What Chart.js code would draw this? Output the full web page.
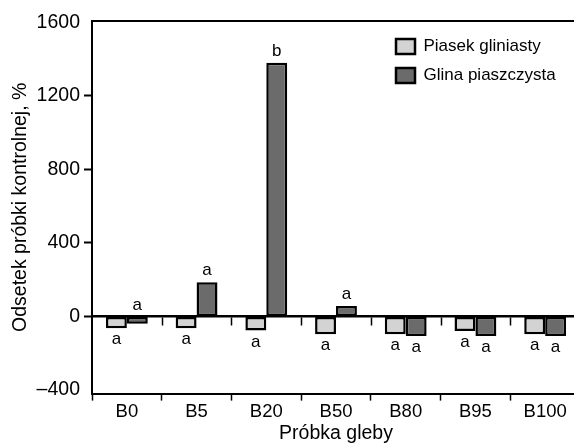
<!DOCTYPE html>
<html>
<head>
<meta charset="utf-8">
<script src="https://cdn.jsdelivr.net/npm/chart.js@4.4.1/dist/chart.umd.min.js"></script>
<style>
html, body { margin: 0; padding: 0; overflow: hidden; background: #fff; }
#wrap { width: 580px; height: 445px; }
</style>
</head>
<body>
<div id="wrap"><canvas id="soilChart"></canvas></div>
<script>
const samples = ["B0", "B5", "B20", "B50", "B80", "B95", "B100"];
const loamySand = [-64, -64, -77, -97, -97, -79, -97];
const sandyLoam = [-40, 186, 1381, 57, -106, -106, -106];
const loamySandLetters = ["a", "a", "a", "a", "a", "a", "a"];
const sandyLoamLetters = ["a", "a", "b", "a", "a", "a", "a"];
const yTicks = [-400, 0, 400, 800, 1200, 1600];

const FONT = "'Liberation Sans', Arial, sans-serif";
Chart.defaults.font.family = FONT;
Chart.defaults.color = "#000";

const letters = [loamySandLetters, sandyLoamLetters];

// significance letters over / under each bar
const letterPlugin = {
    id: "letters",
    afterDatasetsDraw(chart) {
        const ctx = chart.ctx;
        ctx.save();
        ctx.font = "17px " + FONT;
        ctx.fillStyle = "#000";
        ctx.textAlign = "center";
        ctx.textBaseline = "alphabetic";
        chart.data.datasets.forEach((ds, i) => {
            chart.getDatasetMeta(i).data.forEach((bar, j) => {
                const v = ds.data[j];
                let y;
                if (v > -50) {
                    y = Math.min(bar.y, bar.base) - 7;
                } else {
                    y = bar.y + 16;
                }
                ctx.fillText(letters[i][j], bar.x, y);
            });
        });
        ctx.restore();
    }
};

// top and right edge of the frame, small ticks under the zero line
const framePlugin = {
    id: "frame",
    afterDraw(chart) {
        const a = chart.chartArea;
        const ctx = chart.ctx;
        const xs = chart.scales.x;
        const y0 = chart.scales.y.getPixelForValue(0);
        ctx.save();
        ctx.strokeStyle = "#000";
        ctx.lineWidth = 2;
        ctx.beginPath();
        ctx.moveTo(a.left - 1, a.top);
        ctx.lineTo(a.right - 1, a.top);
        ctx.lineTo(a.right - 1, a.bottom);
        ctx.stroke();

        ctx.lineWidth = 1.5;
        ctx.beginPath();
        for (let i = 1; i < samples.length; i++) {
            const x = Math.round((xs.getPixelForValue(i - 1) + xs.getPixelForValue(i)) / 2) + 0.5;
            ctx.moveTo(x, y0 + 1);
            ctx.lineTo(x, y0 + 9);
        }
        ctx.stroke();
        ctx.restore();
    }
};

// put the legend in the upper right part of the plot
const legendPlace = {
    id: "legendPlace",
    afterLayout(chart) {
        const lg = chart.legend;
        lg.left = chart.chartArea.left + 292;
        lg.right = chart.chartArea.right;
        lg.top = chart.chartArea.top + 5;
        lg.bottom = chart.chartArea.top + 120;
    }
};

new Chart(document.getElementById("soilChart"), {
    type: "bar",
    data: {
        labels: samples,
        datasets: [
            {
                label: "Piasek gliniasty",
                data: loamySand,
                backgroundColor: "#d3d3d3",
                borderColor: "#000",
                borderWidth: 2.5,
                borderSkipped: false,
                categoryPercentage: 0.6,
                barPercentage: 1
            },
            {
                label: "Glina piaszczysta",
                data: sandyLoam,
                backgroundColor: "#6b6b6b",
                borderColor: "#000",
                borderWidth: 2.5,
                borderSkipped: false,
                categoryPercentage: 0.6,
                barPercentage: 1
            }
        ]
    },
    options: {
        responsive: true,
        maintainAspectRatio: false,
        animation: false,
        devicePixelRatio: 1,
        layout: { padding: { top: 21, left: 0, right: 0, bottom: 0 } },
        plugins: {
            tooltip: { enabled: false },
            legend: {
                position: "chartArea",
                align: "start",
                labels: {
                    boxWidth: 19,
                    boxHeight: 15,
                    padding: 12,
                    color: "#000",
                    font: { size: 17 }
                }
            }
        },
        scales: {
            x: {
                afterFit: s => { s.height = 51.4; },
                border: { color: "#000", width: 2 },
                grid: { offset: true, drawOnChartArea: false, tickLength: 7, tickWidth: 1.5, tickColor: "#000" },
                ticks: { color: "#000", padding: 0, autoSkip: false, maxRotation: 0, font: { size: 18.5 } },
                title: { display: true, text: "Próbka gleby", color: "#000", padding: 0, font: { size: 19.5 } }
            },
            zero: {
                type: "category",
                axis: "x",
                position: { y: 0 },
                offset: true,
                border: { color: "#000", width: 2.5, z: 1 },
                grid: { display: false },
                ticks: { display: false }
            },
            y: {
                min: -420,
                max: 1608,
                afterBuildTicks: s => { s.ticks = yTicks.map(v => ({ value: v })); },
                afterFit: s => { s.width = 92; },
                border: { color: "#000", width: 2 },
                grid: {
                    drawOnChartArea: false,
                    tickLength: 8,
                    tickWidth: 2,
                    tickColor: c => (c.tick && (c.tick.value === yTicks[0] || c.tick.value === yTicks[yTicks.length - 1])) ? "rgba(0,0,0,0)" : "#000"
                },
                ticks: {
                    color: "#000",
                    padding: 4,
                    font: { size: 19.5 },
                    callback: v => String(v).replace("-", "\u2013")
                },
                title: { display: true, text: "Odsetek próbki kontrolnej, %", color: "#000", padding: { top: 9, bottom: 0 }, font: { size: 19.5 } }
            }
        }
    },
    plugins: [letterPlugin, framePlugin, legendPlace]
});
</script>
</body>
</html>
